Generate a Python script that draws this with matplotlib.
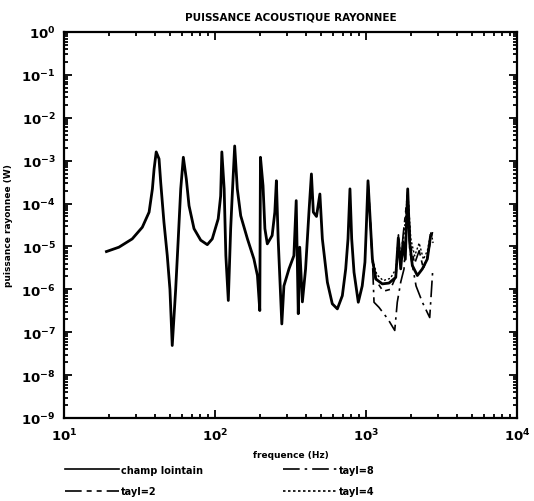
import matplotlib
matplotlib.use("Agg")
import matplotlib.pyplot as plt
from matplotlib.ticker import LogLocator, NullFormatter

# ---- data ----
f_champ = [19.1, 23.1, 28.3, 33.0, 36.6, 38.5, 39.5, 40.8, 42.6, 43.7, 45.9, 48.3,
           50.3, 52.1, 54.9, 57.1, 59.3, 61.7, 64.6, 67.3, 72.6, 80.4, 88.9, 95.9,
           105, 109, 111, 115, 118, 122.5, 127, 130, 135, 140.5, 148, 164, 181, 191,
           198, 200, 208, 214, 222, 239, 249, 255, 262, 277, 286, 309, 333, 345, 356,
           364, 379, 398, 419, 435, 448, 470, 495, 514, 555, 598, 646, 697, 734, 760,
           783, 804, 833, 889, 944, 984, 1004, 1031, 1059, 1102, 1159, 1282, 1419,
           1574, 1637, 1698, 1758, 1820, 1889, 1946, 2027, 2188, 2362, 2548, 2680]
p_champ = [7.6e-6, 9.6e-6, 1.5e-5, 2.8e-5, 6.3e-5, 2.2e-4, 6.4e-4, 1.6e-3, 1.1e-3,
           3.1e-4, 3.7e-5, 6.1e-6, 1.0e-6, 4.9e-8, 1.0e-6, 1.5e-5, 2.2e-4, 1.2e-3,
           3.7e-4, 8.9e-5, 2.6e-5, 1.4e-5, 1.1e-5, 1.5e-5, 4.4e-5, 1.5e-4, 1.6e-3,
           2.2e-4, 6.1e-6, 5.5e-7, 2.6e-5, 1.5e-4, 2.2e-3, 2.2e-4, 5.2e-5, 1.5e-5,
           5.1e-6, 2.1e-6, 3.2e-7, 1.2e-3, 2.6e-4, 2.6e-5, 1.15e-5, 1.8e-5, 6.3e-5,
           3.4e-4, 1.5e-5, 1.56e-7, 1.2e-6, 3.0e-6, 6.1e-6, 1.17e-4, 2.7e-7, 9.6e-6,
           5.1e-7, 3.0e-6, 6.3e-5, 4.9e-4, 6.3e-5, 5.0e-5, 1.67e-4, 1.5e-5, 1.46e-6,
           4.6e-7, 3.5e-7, 7.1e-7, 3.0e-6, 1.5e-5, 2.2e-4, 1.5e-5, 2.5e-6, 5.0e-7,
           1.2e-6, 4.3e-6, 2.6e-5, 3.4e-4, 6.3e-5, 5.1e-6, 1.75e-6, 1.34e-6, 1.4e-6,
           1.9e-6, 1.6e-5, 3.0e-6, 1.25e-5, 5.0e-6, 2.2e-4, 1.25e-5, 3.6e-6, 2.1e-6,
           3.0e-6, 5.1e-6, 1.8e-5]

f_tayl8 = [1031, 1059, 1102, 1130, 1219, 1400, 1550, 1611, 1700, 1786, 1889, 1950,
           2145, 2362, 2642, 2770]
p_tayl8 = [3.4e-4, 6.3e-5, 5.1e-6, 5.0e-7, 3.8e-7, 2.0e-7, 1.1e-7, 5.0e-7, 1.5e-6,
           3.0e-6, 1.5e-4, 8.0e-6, 1.2e-6, 5.0e-7, 2.2e-7, 3.0e-6]

f_tayl2 = [1031, 1059, 1102, 1180, 1300, 1450, 1580, 1640, 1700, 1760, 1889, 1980,
           2100, 2250, 2400, 2550, 2700, 2780]
p_tayl2 = [3.4e-4, 6.3e-5, 5.1e-6, 1.5e-6, 9.0e-7, 1.0e-6, 2.0e-6, 1.2e-5, 4.0e-6,
           1.8e-5, 1.8e-4, 1.0e-5, 4.0e-6, 8.0e-6, 3.0e-6, 6.0e-6, 1.5e-5, 2.5e-5]

f_tayl4 = [1031, 1059, 1102, 1180, 1300, 1450, 1580, 1640, 1700, 1760, 1889, 1980,
           2100, 2250, 2400, 2550, 2700, 2780]
p_tayl4 = [3.4e-4, 6.3e-5, 5.1e-6, 2.2e-6, 1.6e-6, 1.8e-6, 3.0e-6, 2.0e-5, 5.0e-6,
           1.0e-5, 2.0e-4, 1.5e-5, 6.0e-6, 1.2e-5, 5.0e-6, 8.0e-6, 2.2e-5, 1.2e-5]

x_ticks = [1e1, 1e2, 1e3, 1e4]
x_ticklabels = [r"$\mathbf{10^{1}}$", r"$\mathbf{10^{2}}$", r"$\mathbf{10^{3}}$", r"$\mathbf{10^{4}}$"]
y_exps = [0, -1, -2, -3, -4, -5, -6, -7, -8, -9]

# ---- figure ----
fig = plt.figure(figsize=(5.34, 5.02), dpi=100)
ax = fig.add_axes([64 / 534, 1 - 419 / 502, (517 - 64) / 534, (419 - 33) / 502])

ax.plot(f_champ, p_champ, color="black", lw=2.0, solid_joinstyle="round",
        label="champ lointain")
ax.plot(f_tayl2, p_tayl2, color="black", lw=1.2, dashes=(10, 3, 3, 3, 3, 3),
        label="tayl=2")
ax.plot(f_tayl8, p_tayl8, color="black", lw=1.2, dashes=(10, 3, 1.5, 3),
        label="tayl=8")
ax.plot(f_tayl4, p_tayl4, color="black", lw=1.0, dashes=(1.5, 1.5),
        label="tayl=4")

ax.set_xscale("log")
ax.set_yscale("log")
ax.set_xlim(1e1, 1e4)
ax.set_ylim(1e-9, 1e0)

ax.set_xticks(x_ticks)
ax.set_xticklabels(x_ticklabels)
ax.set_yticks([10.0 ** e for e in y_exps])
ax.set_yticklabels([r"$\mathbf{10^{%d}}$" % e for e in y_exps])
ax.xaxis.set_minor_locator(LogLocator(base=10, subs=range(2, 10), numticks=50))
ax.yaxis.set_minor_locator(LogLocator(base=10, subs=range(2, 10), numticks=50))
ax.xaxis.set_minor_formatter(NullFormatter())
ax.yaxis.set_minor_formatter(NullFormatter())

ax.tick_params(which="both", direction="in", top=True, right=True, width=1.3,
               colors="black")
ax.tick_params(which="major", length=6, labelsize=9.5, pad=6)
ax.tick_params(which="minor", length=3)
for s in ax.spines.values():
    s.set_linewidth(1.6)

ax.set_title("PUISSANCE ACOUSTIQUE RAYONNEE", fontsize=7.5, fontweight="bold", pad=9)
ax.set_xlabel("frequence (Hz)", fontsize=6.5, fontweight="bold", labelpad=5)
ax.set_ylabel("puissance rayonnee (W)", fontsize=6.5, fontweight="bold", labelpad=6)

leg = fig.legend(loc="lower left", bbox_to_anchor=(56 / 534, -0.008), ncol=2,
                 frameon=False, handlelength=5.6, handletextpad=0.2,
                 columnspacing=8.2, labelspacing=1.2,
                 prop={"size": 7, "weight": "bold"})
for h in leg.get_lines():
    h.set_linewidth(1.2)

fig.savefig("out.png", dpi=100)
